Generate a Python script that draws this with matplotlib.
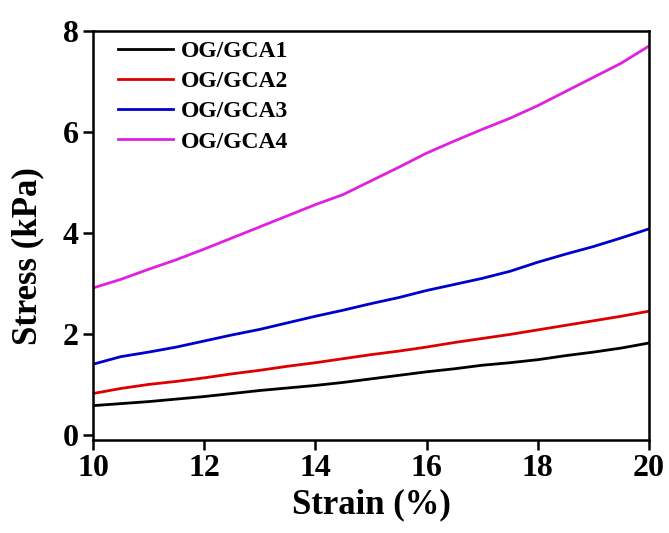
import numpy as np
import matplotlib
matplotlib.use("Agg")
import matplotlib.pyplot as plt

# strain (%) and stress (kPa)
strain = [10.0, 10.5, 11.0, 11.5, 12.0, 12.5, 13.0, 13.5, 14.0, 14.5, 15.0,
          15.5, 16.0, 16.5, 17.0, 17.5, 18.0, 18.5, 19.0, 19.5, 20.0]
gca1 = [0.58, 0.62, 0.66, 0.71, 0.76, 0.82, 0.88, 0.93, 0.98, 1.04, 1.11,
        1.18, 1.25, 1.31, 1.38, 1.43, 1.49, 1.57, 1.64, 1.72, 1.82]
gca2 = [0.82, 0.92, 1.00, 1.06, 1.13, 1.21, 1.28, 1.36, 1.43, 1.51, 1.59,
        1.66, 1.74, 1.83, 1.91, 1.99, 2.08, 2.17, 2.26, 2.35, 2.45]
gca3 = [1.40, 1.55, 1.64, 1.74, 1.86, 1.98, 2.09, 2.22, 2.35, 2.47, 2.60,
        2.72, 2.86, 2.98, 3.10, 3.24, 3.42, 3.58, 3.73, 3.90, 4.08]
gca4 = [2.91, 3.08, 3.28, 3.47, 3.68, 3.90, 4.12, 4.34, 4.56, 4.76, 5.03,
        5.30, 5.58, 5.82, 6.05, 6.27, 6.52, 6.80, 7.08, 7.36, 7.70]

names = ["OG/GCA1", "OG/GCA2", "OG/GCA3", "OG/GCA4"]
colors = ["#000000", "#dd0000", "#0000cc", "#e020e0"]

plt.rcParams['font.family'] = ['Liberation Serif', 'DejaVu Serif']
plt.rcParams['font.weight'] = 'bold'

fig = plt.figure(figsize=(6.69, 5.33), dpi=100)
ax = fig.add_axes([0.139, 0.1745, 0.831, 0.7675])

for ys, lab, c in zip([gca1, gca2, gca3, gca4], names, colors):
    ax.plot(strain, ys, color=c, lw=2.0, label=lab)

ax.set_xlim(10, 20)
ax.set_ylim(-0.1, 8)
ax.set_xticks([10, 12, 14, 16, 18, 20])
ax.set_yticks([0, 2, 4, 6, 8])
ax.tick_params(axis='both', direction='out', length=7, width=1.8,
               labelsize=23, pad=3)
for s in ax.spines.values():
    s.set_linewidth(1.8)

ax.set_xlabel("Strain (%)", fontsize=25, fontweight='bold', labelpad=4)
ax.set_ylabel("Stress (kPa)", fontsize=25, fontweight='bold')
ax.yaxis.set_label_coords(-0.088, 0.45)

leg = ax.legend(loc='upper left', frameon=False, fontsize=17,
                handlelength=2.35, handletextpad=0.3, labelspacing=0.37,
                borderaxespad=0.0, bbox_to_anchor=(0.028, 1.0))

fig.savefig("out.png", dpi=100)
